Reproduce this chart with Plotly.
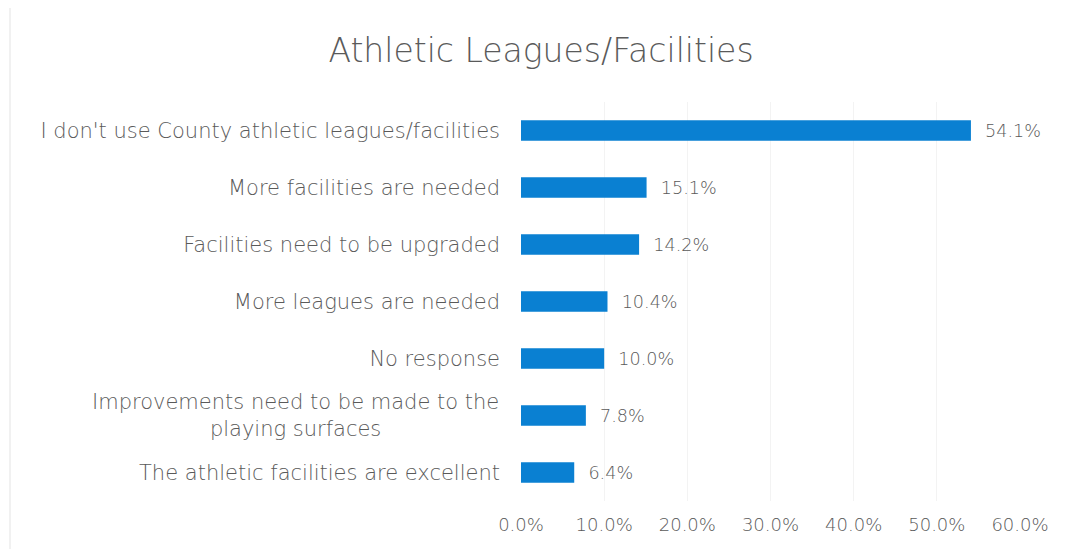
import plotly.graph_objects as go

categories = ["I don't use County athletic leagues/facilities",
              "More facilities are needed",
              "Facilities need to be upgraded",
              "More leagues are needed",
              "No response",
              "Improvements need to be made to the<br>playing surfaces",
              "The athletic facilities are excellent"]
values = [54.1, 15.1, 14.2, 10.4, 10.0, 7.8, 6.4]
tick_vals = [0, 10, 20, 30, 40, 50, 60]
tick_text = ["0.0%", "10.0%", "20.0%", "30.0%", "40.0%", "50.0%", "60.0%"]

font_family = "'DejaVu Sans', sans-serif"
grey = "#5a5a5a"

# two-line labels are centred in the original, so draw those as annotations
wrapped = [c for c in categories if "<br>" in c]
y_ticktext = ["" if c in wrapped else c for c in categories]

# page body has an 8px margin, so the figure is drawn 8px in from the top-left
fig = go.Figure(go.Bar(
    x=values,
    y=categories,
    orientation="h",
    marker=dict(color="#0A80D2", line=dict(width=0)),
    text=[f"\u00a0\u00a0{v:.1f}%" for v in values],
    textposition="outside",
    textfont=dict(size=18, color=grey, family=font_family, weight=300),
    cliponaxis=False,
    hoverinfo="skip",
))

for c in wrapped:
    fig.add_annotation(text=c, x=0, xref="paper", xanchor="right", xshift=-20,
                       y=c, yref="y", yanchor="middle", align="center",
                       showarrow=False,
                       font=dict(size=21, color=grey, family=font_family, weight=300))

fig.update_layout(
    width=1057, height=541,
    margin=dict(l=513, r=45, t=94, b=48),
    paper_bgcolor="white",
    plot_bgcolor="white",
    bargap=0.64,
    showlegend=False,
    title=dict(text="Athletic Leagues/Facilities", x=(541 - 8) / 1057, xanchor="center",
               y=1 - (50 - 8) / 541, yanchor="middle",
               font=dict(size=33, color=grey, family=font_family, weight=300)),
    font=dict(family=font_family, color=grey, weight=300),
    xaxis=dict(range=[0, 60], tickvals=tick_vals, ticktext=tick_text,
               showgrid=True, gridcolor="#f3f3f3", gridwidth=1,
               zeroline=False, showline=False, ticks="",
               tickfont=dict(size=18, color=grey, weight=300), ticklabelstandoff=11),
    yaxis=dict(categoryorder="array", categoryarray=categories[::-1],
               tickmode="array", tickvals=categories, ticktext=y_ticktext,
               showgrid=False, zeroline=False, showline=False, ticks="",
               tickfont=dict(size=21, color=grey, weight=300), ticklabelstandoff=20),
    shapes=[dict(type="rect", xref="paper", yref="paper",
                 x0=(10 - 521) / 499, x1=(1062 - 521) / 499,
                 y0=-(546 - 493) / 391, y1=1 + (102 - 9) / 391,
                 line=dict(color="#e3e3e3", width=1))],
)

fig.write_html("out.html")
